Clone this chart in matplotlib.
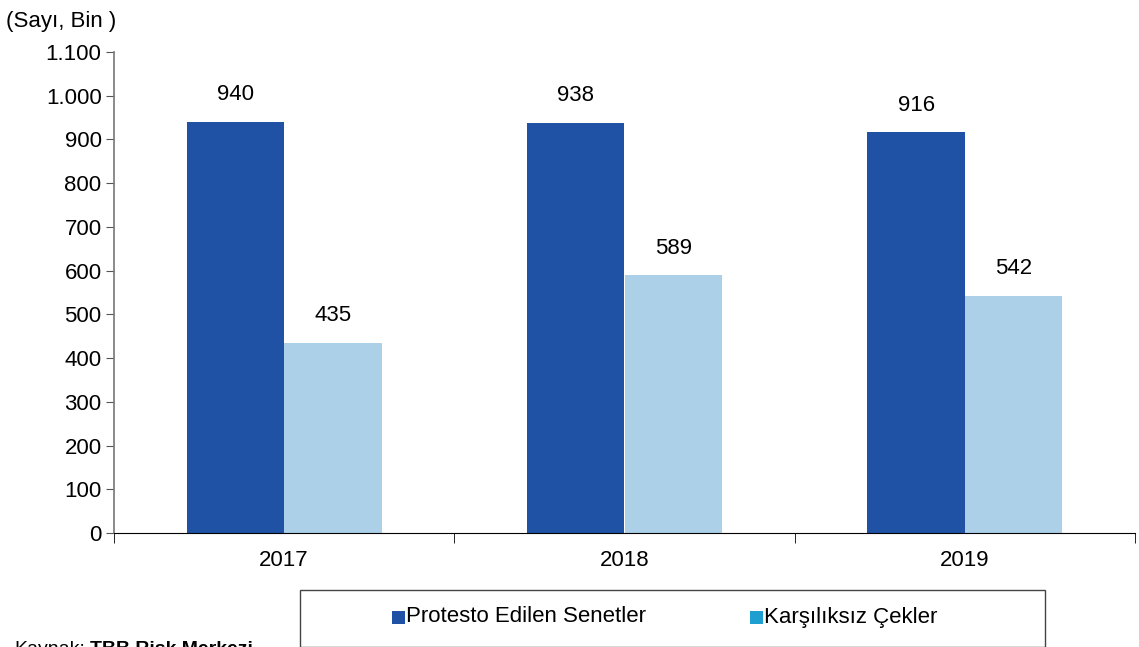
import matplotlib.pyplot as plt
import numpy as np
from matplotlib.patches import Rectangle

plt.rcParams['font.family'] = ['Liberation Sans', 'DejaVu Sans']

# Data
years = ["2017", "2018", "2019"]
senetler = [940, 938, 916]
cekler = [435, 589, 542]
yticks = [0, 100, 200, 300, 400, 500, 600, 700, 800, 900, 1000, 1100]
ytick_labels = ["0", "100", "200", "300", "400", "500", "600", "700", "800", "900", "1.000", "1.100"]

dark = "#1f52a5"
light = "#abd0e8"
legend_light = "#1f9fd0"

W, H = 1139, 647
fs = 16
fig = plt.figure(figsize=(W / 100, H / 100), dpi=100)
ax = fig.add_axes([114 / W, 1 - 533 / H, (1135 - 114) / W, (533 - 52) / H])

x = np.arange(len(years))
w = 0.286
ax.bar(x - w / 2, senetler, w, color=dark)
ax.bar(x + w / 2, cekler, w, color=light)

# value labels, ~27 px above bar tops
for i in range(len(years)):
    ax.text(x[i] - w / 2, senetler[i] + 62, str(senetler[i]), ha="center", va="center", fontsize=fs)
    ax.text(x[i] + w / 2, cekler[i] + 62, str(cekler[i]), ha="center", va="center", fontsize=fs)

ax.set_xlim(-0.5, 2.5)
ax.set_ylim(0, 1100)
ax.set_yticks(yticks)
ax.set_yticklabels(ytick_labels, fontsize=fs)
ax.set_xticks(x)
ax.set_xticklabels(years, fontsize=fs)
ax.tick_params(axis="x", length=0, pad=12)
ax.set_xticks([-0.5, 0.5, 1.5, 2.5], minor=True)
ax.tick_params(axis="x", which="minor", length=7, direction="out", color="black")
ax.tick_params(axis="y", length=6, color="#555555", pad=3)

for s in ["top", "right"]:
    ax.spines[s].set_visible(False)
ax.spines["left"].set_color("#777777")
ax.spines["left"].set_linewidth(1.2)
ax.spines["bottom"].set_color("black")

fig.text(6 / W, 1 - 21 / H, "(Sayı, Bin )", fontsize=fs, va="center", ha="left")

# Legend box
fig.patches.append(Rectangle((300 / W, 0), (1045 - 300) / W, 1 - 590 / H,
                             transform=fig.transFigure, fill=False,
                             edgecolor="#444444", linewidth=1))
ly = 1 - 617 / H
fig.patches.append(Rectangle((392 / W, ly - 7 / H), 13 / W, 13 / H, transform=fig.transFigure,
                             facecolor=dark, edgecolor="none"))
fig.text(406 / W, ly, "Protesto Edilen Senetler", fontsize=fs, va="center", ha="left")
fig.patches.append(Rectangle((750 / W, ly - 7 / H), 13 / W, 13 / H, transform=fig.transFigure,
                             facecolor=legend_light, edgecolor="none"))
fig.text(764 / W, ly, "Karşılıksız Çekler", fontsize=fs, va="center", ha="left")

# source line, cut off at the bottom edge as in the original
fig.text(14 / W, 1 - 641 / H, "Kaynak:", fontsize=14, va="top", ha="left")
fig.text(90 / W, 1 - 641 / H, "TBB Risk Merkezi", fontsize=14, fontweight="bold",
         va="top", ha="left")

fig.savefig("out.png", dpi=100)
